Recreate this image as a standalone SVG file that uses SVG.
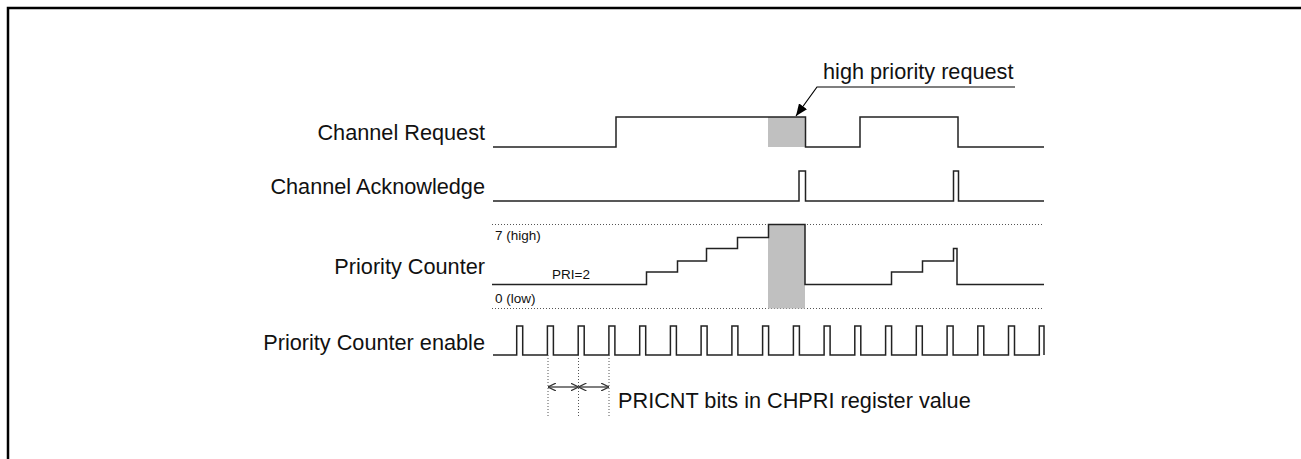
<svg xmlns="http://www.w3.org/2000/svg" width="1301" height="459" viewBox="0 0 1301 459">
<style>
.lbl{font-family:"Liberation Sans",Arial,sans-serif;font-size:21.7px;fill:#111}
.sm{font-family:"Liberation Sans",Arial,sans-serif;font-size:13.5px;fill:#111}
.sig{fill:none;stroke:#222;stroke-width:1.5}
.dot{fill:none;stroke:#555;stroke-width:1;stroke-dasharray:1,2}
.grey{fill:#c0c0c0}
</style>
<defs>
<marker id="fa" viewBox="0 0 12 10" refX="12" refY="5" markerWidth="12" markerHeight="10" markerUnits="userSpaceOnUse" orient="auto"><path d="M0,0 L12,5 L0,10 Z" fill="#000"/></marker>
<marker id="oa" viewBox="0 0 8 8" refX="8" refY="4" markerWidth="8" markerHeight="8" markerUnits="userSpaceOnUse" orient="auto"><path d="M0,0 L8,4 L0,8" fill="none" stroke="#333" stroke-width="1.2"/></marker>
<marker id="oas" viewBox="0 0 8 8" refX="0" refY="4" markerWidth="8" markerHeight="8" markerUnits="userSpaceOnUse" orient="auto"><path d="M8,0 L0,4 L8,8" fill="none" stroke="#333" stroke-width="1.2"/></marker>
</defs>
<rect x="8" y="8" width="1400" height="500" fill="none" stroke="#000" stroke-width="2.5"/>

<g id="channel-request">
<text class="lbl" x="485" y="139.5" text-anchor="end">Channel Request</text>
<rect class="grey" x="768" y="117" width="37.5" height="30"/>
<path class="sig" d="M493,147 H616 V117 H805.5 V147 H860 V117 H958 V147 H1044"/>
</g>

<g id="channel-acknowledge">
<text class="lbl" x="485" y="193.5" text-anchor="end">Channel Acknowledge</text>
<path class="sig" d="M493,201 H799 V171 H805.5 V201 H953.5 V171 H958.5 V201 H1044"/>
</g>

<g id="priority-counter">
<text class="lbl" x="485" y="273.5" text-anchor="end">Priority Counter</text>
<line class="dot" x1="492" y1="224.5" x2="1042" y2="224.5"/>
<line class="dot" x1="492" y1="308.5" x2="1042" y2="308.5"/>
<rect class="grey" x="768" y="224.5" width="37" height="84"/>
<path class="sig" d="M492,284.5 H646.5 V272 H677.5 V261 H706.5 V248.5 H737.5 V237.5 H768.5 V224.5 H805 V284.5 H891.5 V272 H922.5 V261 H953.5 V248.5 H957 V284.5 H1044"/>
<text class="sm" x="495" y="240">7 (high)</text>
<text class="sm" x="552" y="279">PRI=2</text>
<text class="sm" x="495" y="303">0 (low)</text>
</g>

<g id="priority-counter-enable">
<text class="lbl" x="485" y="349.5" text-anchor="end">Priority Counter enable</text>
<path class="sig" d="M493,355 H516.7 V326 H522.7 V355 H547.4 V326 H553.4 V355 H578.2 V326 H584.2 V355 H608.9 V326 H614.9 V355 H639.7 V326 H645.7 V355 H670.4 V326 H676.4 V355 H701.1 V326 H707.1 V355 H731.9 V326 H737.9 V355 H762.6 V326 H768.6 V355 H793.4 V326 H799.4 V355 H824.1 V326 H830.1 V355 H854.8 V326 H860.8 V355 H885.6 V326 H891.6 V355 H916.3 V326 H922.3 V355 H947.1 V326 H953.1 V355 H977.8 V326 H983.8 V355 H1008.5 V326 H1014.5 V355 H1039.3 V326 H1044 V355"/>
</g>

<g id="connectors">
<polyline points="1015,87 817,87 796,116" fill="none" stroke="#000" stroke-width="1.2" marker-end="url(#fa)"/>
<line class="dot" x1="548" y1="355" x2="548" y2="416"/>
<line class="dot" x1="578.5" y1="355" x2="578.5" y2="416"/>
<line class="dot" x1="609" y1="355" x2="609" y2="416"/>
<line x1="548" y1="387" x2="578.5" y2="387" stroke="#555" stroke-width="1.5" marker-start="url(#oas)" marker-end="url(#oa)"/>
<line x1="578.5" y1="387" x2="609" y2="387" stroke="#555" stroke-width="1.5" marker-start="url(#oas)" marker-end="url(#oa)"/>
</g>

<g id="annotations">
<text class="lbl" x="823" y="78.5">high priority request</text>
<text class="lbl" x="618" y="407.5">PRICNT bits in CHPRI register value</text>
</g>
</svg>
